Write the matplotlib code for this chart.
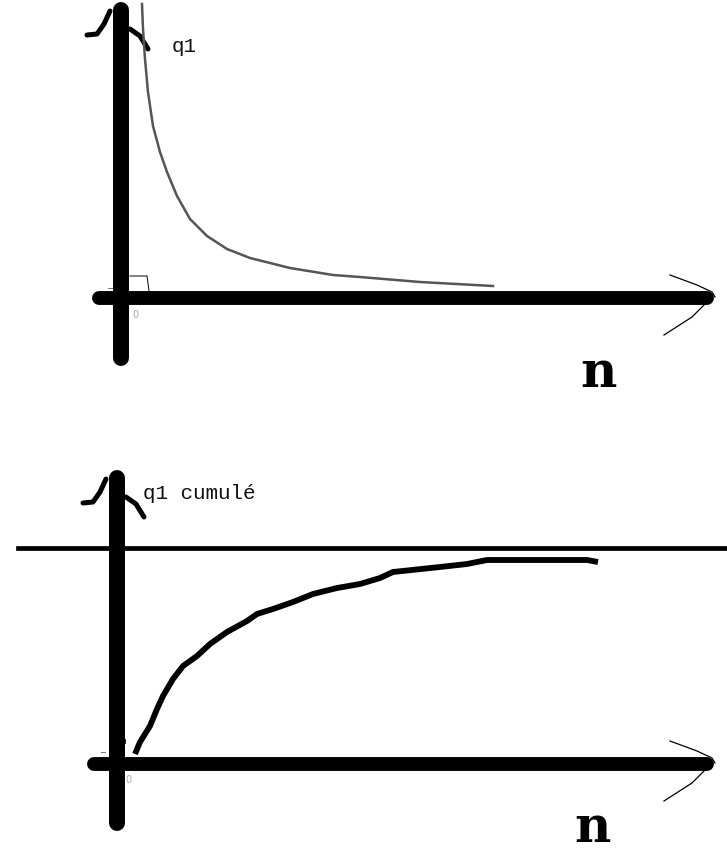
import matplotlib
matplotlib.use("Agg")
import matplotlib.pyplot as plt

# q1 against n (sketch units, origin at the axes crossing)
n_q1 = [21, 22, 24, 27, 32, 39, 46, 56, 69, 86, 106, 129, 149, 169, 212, 239, 299, 372]
q1 = [294, 269, 239, 206, 172, 146, 126, 102, 79, 62, 49, 40, 35, 30, 23, 21, 16, 12]

# cumulated q1 against n
n_cum = [18, 23, 33, 40, 46, 56, 66, 80, 93, 110, 130, 140, 156, 176, 196, 220, 243,
         263, 276, 323, 350, 370, 470, 481]
q1_cum = [10, 22, 38, 55, 68, 85, 98, 108, 120, 132, 143, 150, 155, 162, 170, 176, 180,
          186, 192, 197, 200, 204, 204, 202]
q1_limit = 216

# hand-drawn arrow heads, offsets from the axis tips
up_left = [(-34, -31), (-24, -30), (-17, -20), (-11, -7)]
up_right = [(9, -25), (19, -32), (27, -45)]
right_upper = [(-42, 23), (-15, 13), (0, 6), (3, 1)]
right_lower = [(-7, -6), (-20, -19), (-48, -37)]


def sketch_axes(ax, xlim, ylim, ybounds, xbounds, ylabel, label_pos, n_pos, zero_pos):
    ax.set_xlim(*xlim)
    ax.set_ylim(*ylim)
    ax.set_xticks([])
    ax.set_yticks([])
    for side in ["top", "right"]:
        ax.spines[side].set_visible(False)
    ax.spines["left"].set_position(("data", 0))
    ax.spines["bottom"].set_position(("data", 0))
    ax.spines["left"].set_bounds(*ybounds)
    ax.spines["bottom"].set_bounds(*xbounds)
    ax.spines["left"].set_linewidth(11.5)
    ax.spines["bottom"].set_linewidth(10)
    ax.spines["left"].set_capstyle("round")
    ax.spines["bottom"].set_capstyle("round")
    ax.patch.set_visible(False)

    # arrow on the vertical axis (thick, drawn by hand)
    top = ybounds[1] + 6
    for stroke in (up_left, up_right):
        ax.plot([dx for dx, dy in stroke], [top + dy for dx, dy in stroke],
                color="black", lw=3.6, solid_capstyle="round", clip_on=False)
    # arrow on the horizontal axis (thin)
    tip = xbounds[1] + 5
    for stroke in (right_upper, right_lower):
        ax.plot([tip + dx for dx, dy in stroke], [dy for dx, dy in stroke],
                color="black", lw=0.9, clip_on=False)

    ax.text(*label_pos, ylabel, family="Liberation Mono", fontsize=15,
            ha="left", va="baseline", color="#111111")
    ax.text(*n_pos, "n", family="DejaVu Serif", fontsize=36, weight="bold",
            ha="center", va="bottom", color="black")
    ax.text(*zero_pos, "0", fontsize=7, color="#aaaaaa", ha="center", va="center")


fig = plt.figure(figsize=(7.27, 8.54), dpi=100)
ax1 = fig.add_axes([0, 0.5, 1, 0.5])
ax2 = fig.add_axes([0, 0, 1, 0.5])

sketch_axes(ax1, (-121, 606), (-128, 299), (-60, 288), (-22, 586),
            "q1", (51, 247), (477, -99), (14, -16))
ax1.plot(n_q1, q1, color="#555555", lw=1.8)
# small right-angle mark at the origin
ax1.plot([9, 26, 28], [22, 22, 7], color="black", lw=0.7)
ax1.plot([-13, -9], [10, 10], color="#777777", lw=0.7)

sketch_axes(ax2, (-117, 610), (-89, 338), (-59, 286), (-23, 590),
            "q1 cumulé", (26, 266), (475, -88), (11, -15))
ax2.axhline(q1_limit, xmin=0.025, xmax=1, color="black", lw=3.4)
ax2.plot(n_cum, q1_cum, color="black", lw=4.2, solid_capstyle="butt")
ax2.plot([8, 8], [21, 25], color="black", lw=0.6)
ax2.plot([-16, -12], [12, 12], color="#777777", lw=0.7)

fig.savefig("out.png", dpi=100)
